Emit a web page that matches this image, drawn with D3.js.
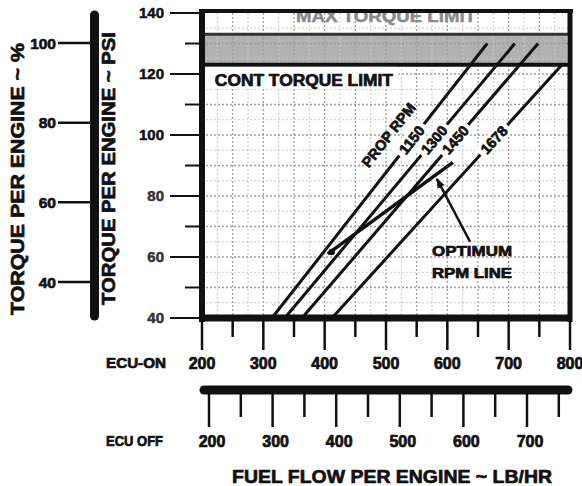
<!DOCTYPE html>
<html><head><meta charset="utf-8">
<script src="https://cdn.jsdelivr.net/npm/d3@7"></script>
<style>
body{margin:0;background:#fff}
svg{display:block}
text{font-family:"Liberation Sans",Arial,sans-serif;font-weight:bold;stroke-linejoin:round}
text.heavy{stroke:#111;stroke-width:0.7}
</style></head><body>
<svg id="c" width="582" height="486"></svg>
<script>
// ---- data ----
const ecuOnTicks=[200,300,400,500,600,700,800];
const ecuOnMinor=[250,350,450,550,650,750];
const ecuOffTicks=[200,300,400,500,600,700];
const ecuOffMinor=[250,350,450,550,650,750];
const psiTicks=[140,120,100,80,60,40];
const psiMinor=[130,110,90,70,50];
const pctTicks=[100,80,60,40];
const rpmNames=["1150","1300","1450","1678"];
const rpmFuelLow=[314,335,363,412];
const rpmPsiLow=[40,40,40,40];
const rpmFuelHigh=[665,710,748,787];
const rpmPsiHigh=[130,130,130,123];
const rpmLabelPsi=98.4;
const optimumFuel=[405,609];
const optimumPsi=[61,91];
const pointerFuel=[637,583];
const pointerPsi=[65,85.6];
const maxTorque=133, contTorque=123;
const propRpmAt=[504,100];

const svg=d3.select("#c");
const x=d3.scaleLinear([200,800],[202,570]);
const y=d3.scaleLinear([40,140],[318,13]);
const xOff=d3.scaleLinear([200,700],[209,527]);
const pct=d3.scaleLinear([40,100],[282,43]);
const ink="#111";

// plot background
svg.append("rect").attr("x",x(200)).attr("y",y(140)).attr("width",x(800)-x(200)).attr("height",y(40)-y(140)).attr("fill","#fff");
// band
svg.append("rect").attr("x",x(200)).attr("y",y(maxTorque)).attr("width",x(795)-x(200)).attr("height",y(contTorque)-y(maxTorque)).attr("rx",4).attr("fill","#b0b0b0");
// grid
const g=svg.append("g");
g.selectAll("line.v").data(d3.range(225,800,25)).join("line")
 .attr("x1",d=>x(d)).attr("x2",d=>x(d)).attr("y1",y(140)).attr("y2",y(40))
 .attr("stroke",d=>d%50===0?"#a0a0a0":"#c8c8c8").attr("stroke-width",d=>d%50===0?1.3:1).attr("stroke-dasharray","2,2");
g.selectAll("line.h").data(d3.range(45,140,5)).join("line")
 .attr("y1",d=>y(d)).attr("y2",d=>y(d)).attr("x1",x(200)).attr("x2",x(800))
 .attr("stroke",d=>d%10===0?"#a0a0a0":"#c8c8c8").attr("stroke-width",d=>d%10===0?1.3:1).attr("stroke-dasharray","2,2");

// limit lines
svg.append("line").attr("x1",x(200)).attr("x2",x(800)).attr("y1",y(maxTorque)).attr("y2",y(maxTorque)).attr("stroke","#333").attr("stroke-width",3);
svg.append("line").attr("x1",x(200)).attr("x2",x(800)).attr("y1",y(contTorque)).attr("y2",y(contTorque)).attr("stroke",ink).attr("stroke-width",4);

// MAX TORQUE LIMIT (clipped by top border)
svg.append("text").attr("x",x(500)).attr("y",y(137.0)).attr("text-anchor","middle").attr("font-size",17)
 .attr("fill","#8a8a8a").attr("stroke","#8a8a8a").attr("stroke-width",0.5).attr("textLength",180).attr("lengthAdjust","spacingAndGlyphs").text("MAX TORQUE LIMIT");
// CONT TORQUE LIMIT
svg.append("rect").attr("x",x(203)).attr("y",y(contTorque)+2).attr("width",x(520)-x(203)).attr("height",22).attr("fill","#fff");
svg.append("text").attr("class","heavy").attr("x",x(221)).attr("y",y(116.1)).attr("font-size",16).attr("fill",ink)
 .attr("textLength",178).attr("lengthAdjust","spacingAndGlyphs").text("CONT TORQUE LIMIT");

// RPM lines
const rpm=rpmNames.map((n,i)=>({n,x0:rpmFuelLow[i],y0:rpmPsiLow[i],x1:rpmFuelHigh[i],y1:rpmPsiHigh[i]}));
svg.selectAll("line.rpm").data(rpm).join("line")
 .attr("x1",d=>x(d.x0)).attr("y1",d=>y(d.y0)).attr("x2",d=>x(d.x1)).attr("y2",d=>y(d.y1))
 .attr("stroke",ink).attr("stroke-width",3);
const ang=d=>Math.atan2(y(d.y1)-y(d.y0),x(d.x1)-x(d.x0))*180/Math.PI;
const lab=svg.selectAll("g.lab").data(rpm).join("g")
 .attr("transform",d=>{const f=d.x0+(d.x1-d.x0)*(rpmLabelPsi-d.y0)/(d.y1-d.y0);return `translate(${x(f)},${y(rpmLabelPsi)}) rotate(${ang(d)})`;});
lab.append("rect").attr("x",-20).attr("y",-8).attr("width",40).attr("height",16).attr("fill","#fff");
lab.append("text").attr("class","heavy").attr("text-anchor","middle").attr("dy","0.36em").attr("font-size",14.5).attr("fill",ink).text(d=>d.n);
// PROP RPM
svg.append("text").attr("class","heavy").attr("transform",`translate(${x(propRpmAt[0])},${y(propRpmAt[1])}) rotate(${ang(rpm[0])})`)
 .attr("text-anchor","middle").attr("dy","0.36em").attr("font-size",14.5).attr("fill",ink).text("PROP RPM");

// optimum line
svg.append("line").attr("x1",x(optimumFuel[0])).attr("y1",y(optimumPsi[0])).attr("x2",x(optimumFuel[1])).attr("y2",y(optimumPsi[1]))
 .attr("stroke",ink).attr("stroke-width",3.5);
svg.append("circle").attr("cx",x(optimumFuel[0])+4).attr("cy",y(optimumPsi[0])-2).attr("r",3.2).attr("fill",ink);
// pointer arrow
svg.append("defs").append("marker").attr("id","ah").attr("viewBox","0 0 10 10").attr("refX",9).attr("refY",5)
 .attr("markerWidth",4).attr("markerHeight",4).attr("orient","auto")
 .append("path").attr("d","M0,1 L10,5 L0,9 Z").attr("fill",ink);
svg.append("line").attr("x1",x(pointerFuel[0])).attr("y1",y(pointerPsi[0])).attr("x2",x(pointerFuel[1])).attr("y2",y(pointerPsi[1]))
 .attr("stroke",ink).attr("stroke-width",2.5).attr("marker-end","url(#ah)");
svg.append("text").attr("class","heavy").attr("x",x(575)).attr("y",y(60.3)).attr("font-size",14).attr("fill",ink).attr("textLength",80).attr("lengthAdjust","spacingAndGlyphs").text("OPTIMUM");
svg.append("text").attr("class","heavy").attr("x",x(575)).attr("y",y(53.1)).attr("font-size",14).attr("fill",ink).attr("textLength",80).attr("lengthAdjust","spacingAndGlyphs").text("RPM LINE");

// frame
svg.append("line").attr("x1",x(200)-2).attr("x2",x(800)+3).attr("y1",y(140)-2).attr("y2",y(140)-2).attr("stroke",ink).attr("stroke-width",4);
svg.append("line").attr("x1",x(200)).attr("x2",x(200)).attr("y1",y(140)-4).attr("y2",y(40)+4).attr("stroke",ink).attr("stroke-width",6);
svg.append("line").attr("x1",x(800)).attr("x2",x(800)).attr("y1",y(140)-4).attr("y2",y(40)+4).attr("stroke",ink).attr("stroke-width",5);
svg.append("line").attr("x1",x(200)-3).attr("x2",x(800)+2).attr("y1",y(40)).attr("y2",y(40)).attr("stroke",ink).attr("stroke-width",7);

// ECU-ON axis
svg.selectAll("line.on").data(ecuOnTicks).join("line").attr("x1",d=>x(d)).attr("x2",d=>x(d)).attr("y1",y(40)).attr("y2",350).attr("stroke",ink).attr("stroke-width",2.5);
svg.selectAll("line.onm").data(ecuOnMinor).join("line").attr("x1",d=>x(d)).attr("x2",d=>x(d)).attr("y1",y(40)).attr("y2",337).attr("stroke",ink).attr("stroke-width",2.5);
svg.selectAll("text.on").data(ecuOnTicks).join("text").attr("class","heavy").attr("x",d=>x(d)).attr("y",369).attr("text-anchor","middle").attr("font-size",16).attr("fill",ink).text(d=>d);
svg.append("text").attr("class","heavy").attr("x",106).attr("y",368).attr("font-size",14).attr("fill",ink).attr("textLength",60).attr("lengthAdjust","spacingAndGlyphs").text("ECU-ON");

// ECU OFF axis
svg.append("line").attr("x1",x(200)+2).attr("x2",x(800)-2).attr("y1",390).attr("y2",390).attr("stroke",ink).attr("stroke-width",9).attr("stroke-linecap","round");
svg.selectAll("line.off").data(ecuOffTicks).join("line").attr("x1",d=>xOff(d)).attr("x2",d=>xOff(d)).attr("y1",390).attr("y2",427).attr("stroke",ink).attr("stroke-width",2.5);
svg.selectAll("line.offm").data(ecuOffMinor).join("line").attr("x1",d=>xOff(d)).attr("x2",d=>xOff(d)).attr("y1",390).attr("y2",417).attr("stroke",ink).attr("stroke-width",2.5);
svg.selectAll("text.off").data(ecuOffTicks).join("text").attr("class","heavy").attr("x",d=>xOff(d)+3).attr("y",447).attr("text-anchor","middle").attr("font-size",16).attr("fill",ink).text(d=>d);
svg.append("text").attr("class","heavy").attr("x",106).attr("y",446).attr("font-size",14.5).attr("fill",ink).attr("textLength",57).attr("lengthAdjust","spacingAndGlyphs").text("ECU OFF");

// title
svg.append("text").attr("class","heavy").attr("x",232).attr("y",483).attr("font-size",19).attr("fill",ink).attr("stroke-width",1).attr("textLength",320).attr("lengthAdjust","spacingAndGlyphs").text("FUEL FLOW PER ENGINE ~ LB/HR");

// PSI axis
svg.selectAll("line.psi").data(psiTicks).join("line").attr("x1",170).attr("x2",x(200)).attr("y1",d=>y(d)).attr("y2",d=>y(d)).attr("stroke",ink).attr("stroke-width",2);
svg.selectAll("line.psim").data(psiMinor).join("line").attr("x1",185).attr("x2",x(200)).attr("y1",d=>y(d)).attr("y2",d=>y(d)).attr("stroke",ink).attr("stroke-width",2);
svg.selectAll("text.psi").data(psiTicks).join("text").attr("x",164).attr("y",d=>y(d)).attr("dy","0.36em").attr("text-anchor","end").attr("font-size",15)
 .attr("fill",d=>d>=100?ink:"#333").attr("stroke",d=>d>=100?ink:"#333").attr("stroke-width",0.5).text(d=>d);
svg.append("text").attr("class","heavy").attr("transform","translate(115,168.5) rotate(-90)").attr("text-anchor","middle").attr("font-size",19).attr("fill",ink).attr("stroke-width",1)
 .attr("textLength",273).attr("lengthAdjust","spacingAndGlyphs").text("TORQUE PER ENGINE ~ PSI");

// percent axis
svg.append("line").attr("x1",94.5).attr("x2",94.5).attr("y1",y(140)+2).attr("y2",y(40)-2).attr("stroke",ink).attr("stroke-width",9).attr("stroke-linecap","round");
svg.selectAll("line.pct").data(pctTicks).join("line").attr("x1",58).attr("x2",92).attr("y1",d=>pct(d)).attr("y2",d=>pct(d)).attr("stroke",ink).attr("stroke-width",2.5);
svg.selectAll("text.pct").data(pctTicks).join("text").attr("class","heavy").attr("x",56).attr("y",d=>pct(d)).attr("dy","0.36em").attr("text-anchor","end").attr("font-size",15.5).attr("fill",ink).text(d=>d);
svg.append("text").attr("class","heavy").attr("transform","translate(24,179) rotate(-90)").attr("text-anchor","middle").attr("font-size",19).attr("fill",ink).attr("stroke-width",1)
 .attr("textLength",272).attr("lengthAdjust","spacingAndGlyphs").text("TORQUE PER ENGINE ~ %");
</script>
</body></html>
